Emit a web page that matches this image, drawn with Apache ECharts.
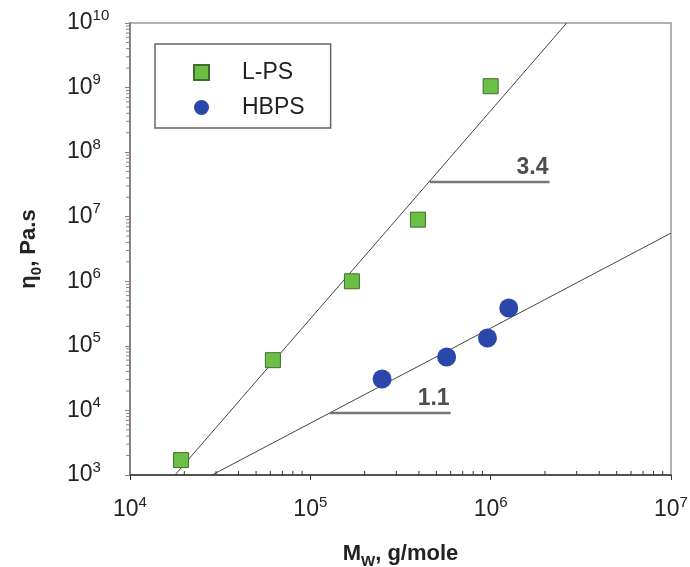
<!DOCTYPE html>
<html>
<head>
<meta charset="utf-8">
<script src="https://cdn.jsdelivr.net/npm/echarts@6/dist/echarts.min.js"></script>
<style>
  html, body { margin: 0; padding: 0; background: #fff; }
  #main { width: 690px; height: 567px; }
</style>
</head>
<body>
<div id="main"></div>
<script>
// 数据
var lpsMw   = [1.92e4, 6.2e4, 1.7e5, 3.95e5, 1.0e6];
var lpsEta  = [1.7e3, 6.0e4, 1.0e6, 9.0e6, 1.05e9];
var hbpsMw  = [2.5e5, 5.7e5, 9.6e5, 1.26e6];
var hbpsEta = [3.06e4, 6.7e4, 1.32e5, 3.85e5];
// 拟合直线两端点
var lpsFitMw   = [1.775e4, 2.64e6];
var lpsFitEta  = [1.0e3, 1.0e10];
var hbpsFitMw  = [2.85e4, 1.0e7];
var hbpsFitEta = [1.0e3, 5.57e6];
// 斜率标注线
var slope34Mw = [4.59e5, 2.12e6], slope34Eta = 3.44e7, slope34Text = '3.4';
var slope11Mw = [1.28e5, 6.0e5],  slope11Eta = 9.1e3,  slope11Text = '1.1';
// 对数轴次刻度
var minorMult = [2, 3, 4, 5, 6, 7, 8, 9];
var xDecades = [1e4, 1e5, 1e6];
var yDecades = [1e3, 1e4, 1e5, 1e6, 1e7, 1e8, 1e9];

function pairs(xs, ys) {
    return xs.map(function (x, i) { return [x, ys[i]]; });
}
var xMinor = [], yMinor = [];
xDecades.forEach(function (d) { minorMult.forEach(function (m) { xMinor.push([d * m, 1e3]); }); });
yDecades.forEach(function (d) { minorMult.forEach(function (m) { yMinor.push([1e4, d * m]); }); });

function powLabel(v) {
    var e = Math.round(Math.log(v) / Math.LN10);
    return '{b|10}{e|' + e + '}';
}
var powRich = {
    b: { fontSize: 23, color: '#222', fontFamily: 'Liberation Sans', lineHeight: 30 },
    e: { fontSize: 15, color: '#222', fontFamily: 'Liberation Sans', lineHeight: 15, verticalAlign: 'top' }
};
var nameRich = {
    b: { fontSize: 22, fontWeight: 'bold', color: '#222', fontFamily: 'Liberation Sans', lineHeight: 30 },
    s: { fontSize: 15, fontWeight: 'bold', color: '#222', fontFamily: 'Liberation Sans', lineHeight: 15, verticalAlign: 'bottom' }
};

function slopeLine(mw, eta) {
    return {
        type: 'line', symbol: 'none', silent: true,
        lineStyle: { color: '#777', width: 2.5 },
        data: [[mw[0], eta], [mw[1], eta]],
        z: 3
    };
}
function slopeText(mw, eta, text) {
    return {
        type: 'scatter', silent: true, symbolSize: 1,
        itemStyle: { color: 'rgba(0,0,0,0)' },
        label: {
            show: true, formatter: text, position: 'top', distance: 2, offset: [-17, 0],
            fontSize: 23, fontWeight: 'bold', color: '#222', fontFamily: 'Liberation Sans'
        },
        data: [[mw[1], eta]],
        z: 3
    };
}

function minorTickSeries(data, horizontal) {
    return {
        type: 'custom',
        silent: true,
        clip: false,
        data: data,
        renderItem: function (params, api) {
            var p = api.coord([api.value(0), api.value(1)]);
            var end = horizontal ? [p[0], p[1] - 4] : [p[0] - 4, p[1]];
            return {
                type: 'line',
                shape: { x1: p[0], y1: p[1], x2: end[0], y2: end[1] },
                style: { stroke: horizontal ? '#333' : '#8a8080', lineWidth: 1 }
            };
        },
        z: 4
    };
}

var myChart = echarts.init(document.getElementById('main'));
var option = {
    animation: false,
    backgroundColor: '#fff',
    grid: {
        left: 130, right: 19, top: 23, bottom: 92,
        outerBoundsMode: 'none',
        show: true, borderColor: '#999', borderWidth: 1.5
    },
    legend: {
        data: ['L-PS', 'HBPS'],
        orient: 'vertical',
        left: 155, top: 44,
        padding: [17, 26, 9, 38],
        borderColor: '#666', borderWidth: 1.5,
        itemWidth: 15, itemHeight: 15, itemGap: 12,
        textStyle: { fontSize: 23, color: '#222', fontFamily: 'Liberation Sans', padding: [0, 0, 0, 28], lineHeight: 18 }
    },
    xAxis: {
        type: 'log', logBase: 10,
        min: 1e4, max: 1e7, interval: 1,
        name: '{b|M}{s|W}{b|, g/mole}',
        nameLocation: 'middle', nameGap: 64,
        nameTextStyle: { rich: nameRich },
        axisLine: { lineStyle: { color: '#333', width: 1.5 } },
        axisTick: { inside: false, length: 5, lineStyle: { color: '#333' } },
        axisLabel: { formatter: powLabel, rich: powRich, margin: 20 },
        splitLine: { show: false }
    },
    yAxis: {
        type: 'log', logBase: 10,
        min: 1e3, max: 1e10, interval: 1,
        name: '{b|η}{s|0}{b|, Pa.s}',
        nameLocation: 'middle', nameGap: 86,
        nameTextStyle: { rich: nameRich },
        axisLine: { lineStyle: { color: '#8a8080', width: 2 } },
        axisTick: { inside: false, length: 5, lineStyle: { color: '#8a8080' } },
        axisLabel: { formatter: powLabel, rich: powRich, margin: 63, align: 'left' },
        splitLine: { show: false }
    },
    series: [
        {
            name: 'L-PS fit', type: 'line', symbol: 'none', silent: true,
            lineStyle: { color: '#444', width: 1 },
            data: pairs(lpsFitMw, lpsFitEta), z: 2
        },
        {
            name: 'HBPS fit', type: 'line', symbol: 'none', silent: true,
            lineStyle: { color: '#444', width: 1 },
            data: pairs(hbpsFitMw, hbpsFitEta), z: 2
        },
        slopeLine(slope34Mw, slope34Eta),
        slopeLine(slope11Mw, slope11Eta),
        slopeText(slope34Mw, slope34Eta, slope34Text),
        slopeText(slope11Mw, slope11Eta, slope11Text),
        minorTickSeries(xMinor, true),
        minorTickSeries(yMinor, false),
        {
            name: 'L-PS', type: 'scatter', symbol: 'rect', symbolSize: 15,
            itemStyle: { color: '#6cbf45', borderColor: '#3d6e2c', borderWidth: 1, opacity: 1 },
            data: pairs(lpsMw, lpsEta), z: 5
        },
        {
            name: 'HBPS', type: 'scatter', symbol: 'circle', symbolSize: 19,
            itemStyle: { color: '#2b47a9', opacity: 1 },
            data: pairs(hbpsMw, hbpsEta), z: 5
        }
    ]
};
myChart.setOption(option);
</script>
</body>
</html>
